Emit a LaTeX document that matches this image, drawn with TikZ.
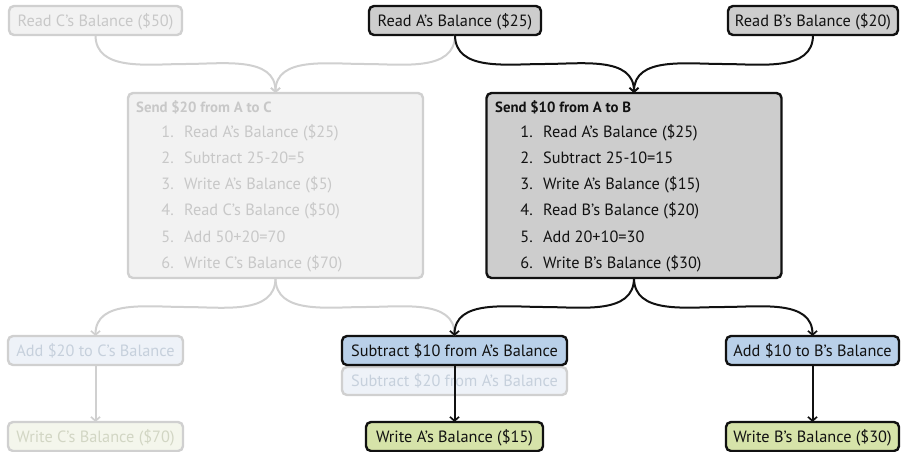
\documentclass[tikz,border=0pt]{standalone}
\usepackage{fontspec}
\setmainfont{PT Sans}
\usetikzlibrary{arrows.meta}

% palette
\definecolor{ink}{HTML}{111111}
\definecolor{livegray}{HTML}{CDCDCD}
\definecolor{liveblue}{HTML}{B9D0E9}
\definecolor{livegreen}{HTML}{D6E3A9}
\definecolor{ghostline}{HTML}{D0D0D0}
\definecolor{ghosttext}{HTML}{C8C8C8}
\definecolor{ghostgray}{HTML}{F2F2F2}
\definecolor{ghostblue}{HTML}{EEF2F8}
\definecolor{ghostbluetext}{HTML}{C6D0DC}
\definecolor{ghostgreen}{HTML}{F4F6EC}
\definecolor{ghostgreentext}{HTML}{D2D6C4}

\begin{document}
\begin{tikzpicture}[x=1pt,y=-1pt,
  font=\fontsize{16.3}{19}\selectfont,
  box/.style={rounded corners=5pt, line width=2.4pt, minimum height=29pt,
    inner sep=0pt, outer sep=0pt, text height=12pt, text depth=1pt},
  live/.style={box, draw=ink, text=ink},
  ghost/.style={box, draw=ghostline, text=ghosttext},
  item/.style={inner sep=0pt, text height=12pt, text depth=1pt},
  num/.style={item, anchor=east},
  txt/.style={item, anchor=west},
  head/.style={txt, font=\fontsize{14.8}{17}\selectfont\bfseries},
  flow/.style={line width=2pt, draw=ink,
    -{Straight Barb[length=4pt,width=9pt,line width=1.7pt]}},
  ghostflow/.style={flow, draw=ghostline},
]
\useasboundingbox (0,0) rectangle (902,451);

% ---------- top row: reads ----------
\node[ghost, fill=ghostgray, minimum width=173pt] (rc) at (95.5,20.5) {Read C’s Balance (\$50)};
\node[live, fill=livegray, minimum width=172pt] (ra) at (455,20.5) {Read A’s Balance (\$25)};
\node[live, fill=livegray, minimum width=170pt] (rb) at (813,20.5) {Read B’s Balance (\$20)};

% ---------- transaction boxes ----------
\node[ghost, fill=ghostgray, minimum width=295pt, minimum height=185pt] (sc) at (275.5,185.5) {};
\node[head, text=ghosttext] (sct) at (136,107) {Send \$20 from A to C};
\foreach \i [count=\k] in {
  {Read A’s Balance (\$25)},
  {Subtract 25-20=5},
  {Write A’s Balance (\$5)},
  {Read C’s Balance (\$50)},
  {Add 50+20=70},
  {Write C’s Balance (\$70)}} {
  \node[num, text=ghosttext] (scn\k) at (174,{131.5+26.3*(\k-1)}) {\k.};
  \node[txt, text=ghosttext] (sci\k) at (184,{131.5+26.3*(\k-1)}) {\i};
}

\node[live, fill=livegray, minimum width=295pt, minimum height=185pt] (sb) at (634,185.5) {};
\node[head, text=ink] (sbt) at (495,107) {Send \$10 from A to B};
\foreach \i [count=\k] in {
  {Read A’s Balance (\$25)},
  {Subtract 25-10=15},
  {Write A’s Balance (\$15)},
  {Read B’s Balance (\$20)},
  {Add 20+10=30},
  {Write B’s Balance (\$30)}} {
  \node[num, text=ink] (sbn\k) at (533,{131.5+26.3*(\k-1)}) {\k.};
  \node[txt, text=ink] (sbi\k) at (543,{131.5+26.3*(\k-1)}) {\i};
}

% ---------- arithmetic steps ----------
\node[ghost, fill=ghostblue, text=ghostbluetext, minimum width=175pt] (ac) at (95.5,350.5) {Add \$20 to C’s Balance};
\node[ghost, fill=ghostblue, text=ghostbluetext, minimum width=225pt, minimum height=28pt] (sa2) at (454.5,381) {Subtract \$20 from A’s Balance};
\node[live, fill=liveblue, minimum width=225pt] (sa) at (454.5,350.5) {Subtract \$10 from A’s Balance};
\node[live, fill=liveblue, minimum width=173pt] (ab) at (812.5,350.5) {Add \$10 to B’s Balance};

% ---------- writes ----------
\node[ghost, fill=ghostgreen, text=ghostgreentext, minimum width=175pt] (wc) at (95.5,436.5) {Write C’s Balance (\$70)};
\node[live, fill=livegreen, minimum width=177pt] (wa) at (454.5,436.5) {Write A’s Balance (\$15)};
\node[live, fill=livegreen, minimum width=173pt] (wb) at (812.5,436.5) {Write B’s Balance (\$30)};

% ---------- faded flow (abandoned transaction) ----------
\draw[ghostflow] (rc.south) to[out=-90,in=180] (185,64) to[out=0,in=90] (sc.north);
\draw[ghostflow] (ra.south) to[out=-90,in=0] (365,64) to[out=180,in=90] (sc.north);
\draw[ghostflow] (sc.south) to[out=-90,in=0] (185,307) to[out=180,in=90] (ac.north);
\draw[ghostflow] (sc.south) to[out=-90,in=180] (365,307) to[out=0,in=90] (sa.north);
\draw[ghostflow] (ac.south) -- (wc.north);

% ---------- committed flow ----------
\draw[flow] (ra.south) to[out=-90,in=180] (544,64) to[out=0,in=90] (sb.north);
\draw[flow] (rb.south) to[out=-90,in=0] (723,64) to[out=180,in=90] (sb.north);
\draw[flow] (sb.south) to[out=-90,in=0] (544,307) to[out=180,in=90] (sa.north);
\draw[flow] (sb.south) to[out=-90,in=180] (723,307) to[out=0,in=90] (ab.north);
\draw[flow] (sa.south) -- (wa.north);
\draw[flow] (ab.south) -- (wb.north);
\end{tikzpicture}
\end{document}
